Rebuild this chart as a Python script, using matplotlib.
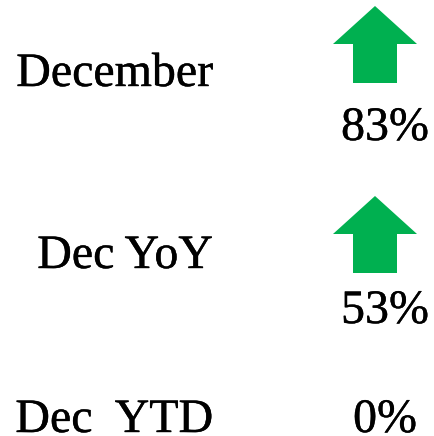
import matplotlib.pyplot as plt
import matplotlib.patheffects as pe
from matplotlib.patches import Polygon

labels = ["December", "Dec YoY", "Dec  YTD"]
changes = ["83%", "53%", "0%"]
directions = ["up", "up", "none"]

GREEN = "#00B050"
FONT = "Liberation Serif"

fig = plt.figure(figsize=(4.34, 4.36), dpi=100)
ax = fig.add_axes([0, 0, 1, 1])
ax.set_xlim(0, 434)
ax.set_ylim(436, 0)
ax.axis("off")

# rows: label baseline, arrow top, percent baseline
label_y = [86, 268, 432]
arrow_top = [6, 196, None]
pct_y = [140, 323, 432]

# slightly heavier strokes, like the reference rendering
bold_fx = [pe.withStroke(linewidth=0.3, foreground="black")]

def up_arrow(cx, top):
    # green block arrow pointing up
    pts = [(cx, top), (cx + 42, top + 38), (cx + 22, top + 38), (cx + 22, top + 77),
           (cx - 22, top + 77), (cx - 22, top + 38), (cx - 42, top + 38)]
    ax.add_patch(Polygon(pts, closed=True, facecolor=GREEN, edgecolor="none"))

for i in range(len(labels)):
    ax.text(213, label_y[i], labels[i], ha="right", va="baseline",
            fontsize=34.5, family=FONT, color="black", path_effects=bold_fx)
    if directions[i] == "up":
        up_arrow(375, arrow_top[i])
    ax.text(385, pct_y[i], changes[i], ha="center", va="baseline",
            fontsize=34.5, family=FONT, color="black", path_effects=bold_fx)

fig.savefig("out.png", dpi=100)
